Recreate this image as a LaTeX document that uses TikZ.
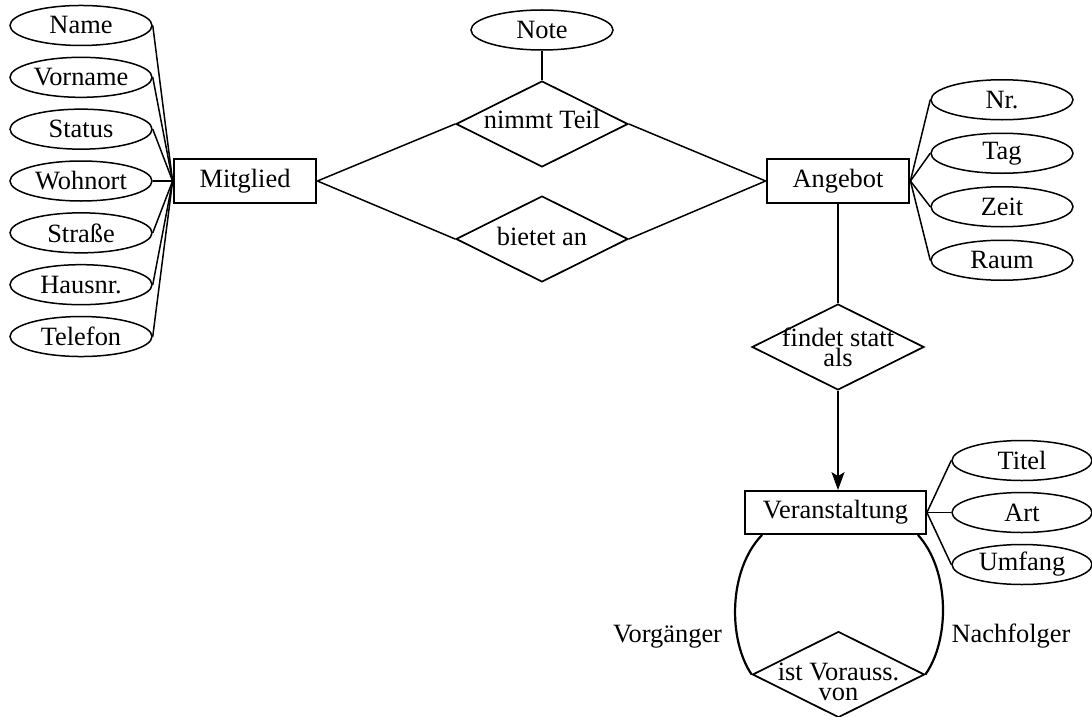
\documentclass[tikz,border=0pt]{standalone}
\usepackage{fontspec}
\setmainfont{Liberation Serif}
\usetikzlibrary{matrix,arrows.meta,shapes.geometric}

\begin{document}
\begin{tikzpicture}[x=0.5pt, y=0.5pt,
		font=\fontsize{13.2}{10}\selectfont,
		>={Stealth[length=9pt,width=6.5pt,inset=2pt]},
		attr/.style={draw, ellipse, line width=0.75pt, inner sep=0pt, minimum width=71pt, minimum height=20pt},
		entity/.style={draw, rectangle, line width=1.4pt, inner sep=0pt, minimum width=71pt, minimum height=22pt},
		rel/.style={draw, diamond, line width=0.85pt, inner sep=0pt, minimum width=86pt, minimum height=43pt},
		conn/.style={line width=0.75pt}]
			\useasboundingbox (0,0) rectangle (1092,-717);
			\matrix (mgattr) [matrix of nodes, row sep=5.17pt, nodes={attr}] at (81,-181)
			{
				Name    \\
				Vorname \\
				Status  \\
				Wohnort \\
				Straße  \\
				Hausnr. \\
				Telefon \\
			};
			\matrix (angattr) [matrix of nodes, row sep=6pt, nodes={attr}] at (1002,-180)
			{
				Nr.  \\
				Tag  \\
				Zeit \\
				Raum \\
			};
			\matrix (vstattr) [matrix of nodes, row sep=5.25pt, nodes={attr, minimum width=70pt}] at (1022,-512.5)
			{
				Titel  \\
				Art    \\
				Umfang \\
			};
			\node[entity] (mg) at (245,-181) {Mitglied};
			\node[entity] (ang) at (838,-181) {Angebot};
			\node[entity, line width=0.9pt, minimum width=90.5pt, minimum height=21.5pt] (vst) at (835.5,-512.5) {Veranstaltung};
			\node[attr] (note) at (542,-30) {Note};
			\node[rel, label={[yshift=2.5pt]center:nimmt Teil}] (nt) at (542,-124) {};
			\node[rel, label={[yshift=1.5pt]center:bietet an}] (ba) at (542,-239) {};
			\node[rel, label={[align=center]center:findet statt\\als}] (fsa) at (838,-347) {};
			\node[rel, label={[align=center, yshift=-3.5pt]center:ist Vorauss.\\von}] (iv) at (838.5,-674.5) {};
			\node[anchor=base] (vg) at (667.5,-642) {Vorgänger};
			\node[anchor=base] (nf) at (1011,-642) {Nachfolger};
			\path[conn]
			(mg.west) edge (mgattr-1-1.east) edge (mgattr-2-1.east) edge (mgattr-3-1.east) edge (mgattr-4-1.east)
				edge (mgattr-5-1.east) edge (mgattr-6-1.east) edge (mgattr-7-1.east)
			(mg.east) edge (nt.west) edge (ba.west)
			(ang.west) edge (nt.east) edge (ba.east)
			(note.south) edge (nt.north)
			(ang.east) edge (angattr-1-1.west) edge (angattr-2-1.west) edge (angattr-3-1.west) edge (angattr-4-1.west)
			(ang.south) edge (fsa.north)
			(vst.east) edge (vstattr-1-1.west) edge (vstattr-2-1.west) edge (vstattr-3-1.west);
			\draw[conn, ->] (fsa.south) -- (fsa.south |- vst.north);
			\draw[line width=1.1pt] ([xshift=9pt]vst.south west) .. controls (728,-570) and (728,-640) .. (iv.west);
			\draw[line width=1.1pt] ([xshift=-4.5pt]vst.south east) .. controls (950,-570) and (950,-640) .. (iv.east);
		\end{tikzpicture}
\end{document}
